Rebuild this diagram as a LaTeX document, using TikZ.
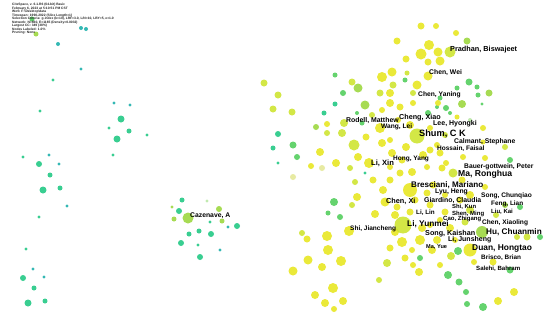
\documentclass[tikz,border=0pt]{standalone}
\usepackage{fontspec}
\setmainfont{Liberation Sans}
\pgfdeclarelayer{bg}
\pgfsetlayers{bg,main}
\definecolor{cY}{RGB}{232,230,30}
\definecolor{cYG}{RGB}{205,228,45}
\definecolor{cLG}{RGB}{155,215,60}
\definecolor{cG}{RGB}{80,205,90}
\definecolor{cTG}{RGB}{30,200,130}
\definecolor{cT}{RGB}{25,175,170}
\definecolor{cPY}{RGB}{228,232,150}
\definecolor{cPG}{RGB}{185,232,165}
\definecolor{eYc}{RGB}{205,232,125}
\definecolor{eTc}{RGB}{115,205,178}
\tikzset{
  nd/.style={circle, inner sep=0pt, draw=none, fill opacity=0.88},
  eY/.style={draw=eYc, line width=0.45pt},
  eT/.style={draw=eTc, line width=0.5pt},
  lbl/.style={anchor=west, inner sep=0pt, text=black, font=\fontsize{#1}{#1}\selectfont\bfseries},
  hdr/.style={anchor=north west, inner sep=0pt, align=left, text=black!85, font=\fontsize{3.3}{3.5}\selectfont\bfseries}
}
\begin{document}
\begin{tikzpicture}[x=1pt,y=-1pt]
\fill[white] (0,0) rectangle (550,316);
\useasboundingbox (0,0) rectangle (550,316);

% ---------- nodes: left (teal) part ----------
\foreach \n/\x/\y/\s/\cl in {
 h1/32/19/2.5/cG, h2/36/34/2.5/cLG, h3/81/28/2/cT, h4/86/29/2/cT, h5/58/44/2/cT, h6/81/69/1.6/cT,
 l1/53/80/1.6/cTG, l2/40/111/1.6/cTG, l3/67/206/1.6/cT, l4/39/217/1.6/cTG, l5/26/249/1.6/cTG,
 a1/114/103/1.6/cT, a2/130/105/1.6/cT, a3/121/119/3.5/cTG, a4/109/128/1.6/cTG, a5/129/131/2.5/cTG,
 a6/117/139/3.5/cTG, a7/147/135/1.6/cTG, a8/113/155/1.6/cTG,
 b1/23/157/1.6/cTG, b2/39/164/3/cTG, b3/49/155/1.6/cT, b4/59/164/1.6/cT, b5/50/175/2.5/cTG,
 b6/43/190/3.5/cTG, b7/60/188/2.5/cTG,
 d1/33/269/1.6/cT, d2/23/278/3/cTG, d3/44/277/1.6/cT, d4/34/288/2.5/cTG, d5/28/303/3.5/cTG, d6/45/301/2.5/cTG,
 z1/182/200/2.5/cTG, z2/172/207/1.6/cLG, z3/179/211/3/cTG, z4/207/201/1.6/cPG, z5/219/209/3/cLG,
 z6/174/219/2.5/cLG, z7/222/221/2.5/cLG, z8/210/222/1.6/cTG, z9/237/226/3/cTG, z10/228/227/1.6/cT,
 z11/189/234/2.5/cTG, z12/199/231/2.5/cTG, z13/211/234/3/cTG, z14/181/243/3/cTG, z15/198/245/1.6/cTG,
 z16/220/250/1.6/cT, z17/200/257/3/cTG, z0/188/218/5.5/cLG}
 \node[nd, minimum size=\s*2pt, fill=\cl] (\n) at (\x,\y) {};
\coordinate (d0) at (9,270);
\coordinate (q1) at (15,69); \coordinate (q2) at (12,86);
\coordinate (q3) at (180,76); \coordinate (q4) at (178,94);

% ---------- nodes: right (yellow) part ----------
\foreach \n/\x/\y/\s/\cl in {
 t1/421/26/3.5/cY, t2/436/26/3/cY, t3/456/33/3/cY, t4/467/41/3.5/cLG, t5/397/41/3.5/cY, t6/429/45/5/cY,
 t7/421/54/5.5/cY, t8/438/52/4.5/cY, t9/450/52/5.5/cYG, t10/428/62/3.5/cY, t11/440/61/4.5/cY,
 t12/406/59/3.5/cY, t13/382/77/5/cY, t14/392/72/4.5/cY, t15/407/73/2.5/cYG, t16/428/76/4.5/cY,
 t17/393/85/3.5/cYG, t18/417/85/4.5/cY,
 g1/469/82/3.5/cG, g2/457/88/2.5/cG, g3/477/87/2.5/cG, g4/478/95/2.5/cG, g5/489/93/3.5/cLG,
 g6/482/104/1.6/cG, g7/462/104/4/cLG, g8/446/108/3/cG, g9/437/107/2/cG, g10/450/113/2/cG,
 g11/457/117/2.5/cY, g12/470/120/2/cPG, g13/428/113/3/cG, g14/440/98/2.5/cG,
 w1/335/75/2.5/cG, w2/352/82/3.5/cYG, w3/358/88/4.5/cLG, w4/343/93/3/cG, w5/365/105/4.5/cLG,
 w6/357/113/2/cG, w7/335/104/2.5/cTG, w8/324/113/2.5/cTG, w9/344/123/4/cYG, w10/362/123/2.5/cG,
 w11/327/124/3/cY, w12/316/127/3/cLG, w13/380/93/3.5/cYG, w14/390/103/4/cY, w15/382/110/3/cY,
 w16/372/115/3/cYG, w17/380/128/5/cY,
 x1/264/83/3.5/cYG, x2/278/95/3.5/cYG, x3/273/109/3.5/cYG, x4/292/112/3.5/cYG, x5/278/134/3/cTG,
 x6/273/148/2.5/cTG, x7/293/145/3.5/cG, x8/297/157/3/cG, x9/278/163/1.6/cTG, x10/320/152/4/cY,
 x11/327/133/3/cYG, x12/342/133/4/cYG, x13/354/145/5.5/cYG, x14/366/137/3.5/cY, x15/358/157/4/cY,
 x16/336/163/4/cY, x17/350/168/3/cYG, x18/311/166/3/cY, x19/322/168/3/cPY, x20/293/177/3/cPY,
 x21/369/163/5/cY, x22/365/173/1.6/cTG, x23/390/167/3/cY}
 \node[nd, minimum size=\s*2pt, fill=\cl] (\n) at (\x,\y) {};

\foreach \n/\x/\y/\s/\cl in {
 c2/410/125/4/cY, c3/400/107/3.5/cY, c4/413/103/3/cY, c5/438/103/3/cY, c8/405/80/2.5/cG,
 c10/390/93/4/cY, c11/413/93/3/cYG, c13/423/155/4/cY, c14/463/157/3/cY, c15/483/128/3/cY,
 c16/505/147/3/cYG, c17/510/160/3/cG, c18/483/142/2.5/cY, c19/485/158/3/cY, c20/440/153/3.5/cY,
 c21/446/163/3/cY, c22/442/168/3.5/cY, c24/462/180/3.5/cY, c25/382/143/4/cY, c26/392/153/4/cY,
 c27/406/147/4/cY, c28/430/150/3.5/cY, c29/437/145/3/cY, c30/400/173/3.5/cY, c31/412/172/4/cY,
 c32/427/167/3/cY, c33/373/180/3.5/cY, c34/390/180/3.5/cY, c35/383/190/4/cY, c37/427/193/3.5/cY,
 c38/397/207/3.5/cY, c39/410/212/3.5/cY, c40/385/202/4.5/cY, c42/422/228/4/cY, c43/420/240/5/cY,
 c44/402/242/5/cY, c45/437/240/4/cY, c46/450/228/4/cY, c47/445/212/3.5/cY, c48/460/200/3.5/cY,
 c49/470/210/4/cYG, c50/470/195/4/cY, c53/458/251/4/cG, c54/451/256/4/cYG, c55/440/265/3/cY,
 c56/420/258/3/cG, c57/405/258/3.5/cY, c58/413/265/3/cY, c59/387/263/4/cYG, c60/379/280/3/cYG,
 c61/419/272/4/cY, c63/448/275/4/cG, c65/459/282/3.5/cG, c66/466/292/3/cG, c67/483/307/4/cG,
 c68/498/301/4/cY, c69/514/292/4/cY, c70/467/304/3/cG, c71/474/262/3/cY, c72/493/262/3.5/cY,
 c73/510/270/3.5/cG, c75/517/237/3/cYG, c76/527/237/3.5/cYG, c77/540/237/3/cG, c78/496/215/3/cYG,
 c79/505/205/3/cLG, c80/520/207/3/cG, c81/485/187/3/cY, c82/433/185/3.5/cY, c83/395/232/4/cY,
 c84/430/225/3/cY, c85/440/220/3/cY, c86/375/214/4/cY, c87/352/205/3/cYG, c88/334/202/4/cG,
 c89/328/213/2.5/cG, c90/340/217/3/cG, c91/357/197/4/cY, c93/355/182/3/cYG, c94/402/160/3.5/cY,
 c95/390/140/3/cY,
 f1/398/120/3/cY, f2/430/128/3/cY, f3/445/135/3/cYG, f4/395/215/4/cY, f5/430/205/3.5/cY,
 f6/445/195/3/cY, f7/415/200/3.5/cY, f8/390/248/3.5/cY, f9/432/250/4/cY, f10/455/240/3/cY,
 f11/465/222/3.5/cYG, f12/412/250/3/cY,
 s1/349/231/5/cY, s2/327/236/5/cY, s3/307/239/3.5/cY, s4/328/250/5/cY, s5/308/260/4.5/cY,
 s6/341/261/5/cY, s7/322/267/4/cY, s8/293/271/4.5/cY, s9/333/288/5/cY, s10/315/295/4/cY,
 s11/325/303/4/cY, s12/343/301/4/cY, s13/334/309/3/cY, s14/302/233/3/cYG,
 c23/453/173/4.5/cYG, c36/410/190/7/cY, c51/482/232/6/cLG, c52/470/250/6.5/cY,
 c41/403/225/8.5/cYG, c1/417/136/7.5/cYG}
 \node[nd, minimum size=\s*2pt, fill=\cl] (\n) at (\x,\y) {};

% ---------- connectors ----------
\begin{pgfonlayer}{bg}
\foreach \a/\b in {h5/h3, h5/h4, a1/a3, a2/a3, a1/a2, a3/a4, a3/a5, a3/a6, a4/a6, a5/a6, a4/a5, a5/a7, a6/a8,
  b1/b2, b2/b3, b2/b4, b3/b4, b2/b5, b3/b5, b4/b5, b5/b6, b5/b7, b6/b7,
  d0/d2, d2/d1, d2/d3, d1/d3, d2/d4, d1/d4, d3/d4, d4/d5, d4/d6, d5/d6,
  z0/z1, z0/z2, z0/z3, z0/z5, z0/z6, z0/z7, z0/z8, z0/z11, z0/z12, z0/z13, z0/z14, z0/z15, z0/z4,
  z0/z9, z1/z3, z13/z9, z13/z16, z13/z10, z12/z17, z11/z14, z5/z7, z12/z13, z11/z12, z8/z13}
  \draw[eT] (\a) to[bend left=12] (\b);
\draw[eT] (q1) to[bend right=40] (q2);
\draw[eT] (q3) to[bend right=40] (q4);
\foreach \a/\b in {t1/t2, t1/t6, t2/t6, t6/t7, t6/t8, t6/t10, t7/t10, t8/t9, t9/t3, t9/t4, t9/t11,
  t10/t16, t11/t16, t5/t12, t12/t16, t16/t18, t13/t14, t14/t15, t15/t16, t17/t13, t18/c11, t18/c4,
  g1/g2, g1/g3, g3/g4, g4/g5, g4/g6, g4/g7, g7/g8, g8/g9, g8/g10, g2/g7, g7/g12, g10/g11, g9/g13,
  g13/c1, g14/g8, g14/g1,
  w1/w2, w2/w3, w3/w4, w3/w5, w4/w5, w5/w6, w6/w9, w7/w9, w8/w9, w9/w11, w11/w12, w9/w10, w10/w17,
  w13/w14, w14/w17, w15/w17, w16/w17, w13/t13, w5/w13, w17/c1,
  x1/x2, x2/x4, x3/x4, x4/w12, w12/x10, x5/x7, x6/x7, x7/x10, x8/x10, x9/x8, x10/x18, x10/x19,
  x10/x20, x10/x11, x11/x12, x12/x13, x13/x14, x13/x15, x15/x21, x16/x21, x17/x21, x21/x22,
  x21/x23, x14/w17, x10/x16,
  c1/c2, c1/c3, c1/c4, c1/c5, c1/c13, c1/c20, c1/c27, c1/c28, c1/c29, c1/c25, c1/c26, c1/c14,
  c1/c15, c1/c18, c1/f1, c1/f2, c1/f3, c3/c10, c4/c11, c10/t17, c8/t15, c8/c11, c95/c25, c2/w17,
  c36/c30, c36/c31, c36/c32, c36/c33, c36/c34, c36/c35, c36/c37, c36/c38, c36/c39, c36/c40,
  c36/c82, c36/c94, c36/c26, c36/c27, c36/f7, c36/c1, c36/x23,
  c41/c38, c41/c39, c41/c40, c41/c42, c41/c43, c41/c44, c41/c83, c41/c84, c41/c85, c41/c86,
  c41/c57, c41/c59, c41/s1, c41/c36, c41/f4, c41/f8, c41/f12,
  c51/c46, c51/c47, c51/c48, c51/c49, c51/c50, c51/c52, c51/c53, c51/c75, c51/c76, c51/c77,
  c51/c78, c51/c79, c51/c80, c51/c81, c51/c71, c51/c72, c51/f10, c51/f11, c51/c41,
  c52/c53, c52/c54, c52/c55, c52/c43, c52/c45, c52/c63, c52/c71, c52/c72, c52/c73, c52/c61, c52/f9,
  c23/c20, c23/c21, c23/c22, c23/c24, c23/c14, c23/c16, c23/c17, c23/c19, c23/c48, c23/c50,
  c23/c36, c23/c1,
  c63/c65, c65/c66, c66/c67, c66/c70, c67/c68, c68/c69, c73/c72, c56/c58, c58/c61, c57/c44,
  c59/c60, c56/c41, c88/c89, c88/c90, c88/c87, c87/c91, c91/c93, c91/c40, c93/x17, c86/c40,
  c94/c30, c47/f5, c47/f6,
  s1/s2, s2/s3, s14/s2, s1/s4, s4/s5, s5/s8, s4/s7, s1/s6, s6/s9, s9/s10, s9/s11, s9/s12, s9/s13, s1/c40}
  \draw[eY] (\a) to[bend left=8] (\b);
\end{pgfonlayer}

% ---------- header ----------
\node[hdr] (hdr) at (12,3) {CiteSpace, v. 6.1.R6 (64-bit) Basic\\
February 6, 2023 at 5:10:51 PM CST\\
WoS: F:\textbackslash Desktop\textbackslash data\\
Timespan: 1990-2022 (Slice Length=1)\\
Selection Criteria: g-index (k=10), LRF=3.0, L/N=10, LBY=5, e=1.0\\
Network: N=860, E=1165 (Density=0.0032)\\
Largest CC: 349 (38\%)\\
Nodes Labeled: 1.0\%\\
Pruning: None};

% ---------- labels ----------
\node[lbl=7.3] (L1) at (450,50) {Pradhan, Biswajeet};
\node[lbl=6.8] (L2) at (429,73) {Chen, Wei};
\node[lbl=6.7] (L3) at (418,95) {Chen, Yaning};
\node[lbl=6.9] (L4) at (346,121) {Rodell, Matthew};
\node[lbl=7.2] (L5) at (399,118) {Cheng, Xiao};
\node[lbl=7.0] (L6) at (433,124) {Lee, Hyongki};
\node[lbl=6.6] (L7) at (381,127) {Wang, Lei};
\node[lbl=9.2] (L8) at (419,134) {Shum, C K};
\node[lbl=6.8] (L9) at (454,142) {Calmant, Stephane};
\node[lbl=6.5] (L10) at (437,149) {Hossain, Faisal};
\node[lbl=6.5] (L11) at (393,159) {Hong, Yang};
\node[lbl=7.6] (L12) at (371,163) {Li, Xin};
\node[lbl=6.7] (L13) at (464,167) {Bauer-gottwein, Peter};
\node[lbl=8.6] (L14) at (458,174) {Ma, Ronghua};
\node[lbl=8.1] (L15) at (411,185) {Bresciani, Mariano};
\node[lbl=6.8] (L16) at (435,192) {Lyu, Heng};
\node[lbl=6.6] (L17) at (481,196) {Song, Chunqiao};
\node[lbl=7.3] (L18) at (386,201) {Chen, Xi};
\node[lbl=6.9] (L19) at (424,200.8) {Giardino, Claudia};
\node[lbl=6.4] (L20) at (491,204) {Feng, Lian};
\node[lbl=5.9] (L21) at (452,207) {Shi, Kun};
\node[lbl=6.0] (L22) at (491,212) {Liu, Kai};
\node[lbl=6.0] (L23) at (452,213.5) {Shen, Ming};
\node[lbl=6.3] (L24) at (416,213) {Li, Lin};
\node[lbl=6.0] (L25) at (443,219) {Cao, Zhigang};
\node[lbl=6.6] (L26) at (482,223) {Chen, Xiaoling};
\node[lbl=8.3] (L27) at (407,224) {Li, Yunmei};
\node[lbl=8.2] (L28) at (486,232) {Hu, Chuanmin};
\node[lbl=7.2] (L29) at (425,234) {Song, Kaishan};
\node[lbl=7.0] (L30) at (448,240) {Li, Junsheng};
\node[lbl=5.6] (L31) at (426,247) {Ma, Yue};
\node[lbl=8.4] (L32) at (472,248) {Duan, Hongtao};
\node[lbl=6.4] (L33) at (481,258) {Brisco, Brian};
\node[lbl=6.1] (L34) at (476,269) {Salehi, Bahram};
\node[lbl=6.5] (L35) at (350,229) {Shi, Jiancheng};
\node[lbl=6.8] (L36) at (190,216) {Cazenave, A};
\end{tikzpicture}
\end{document}
